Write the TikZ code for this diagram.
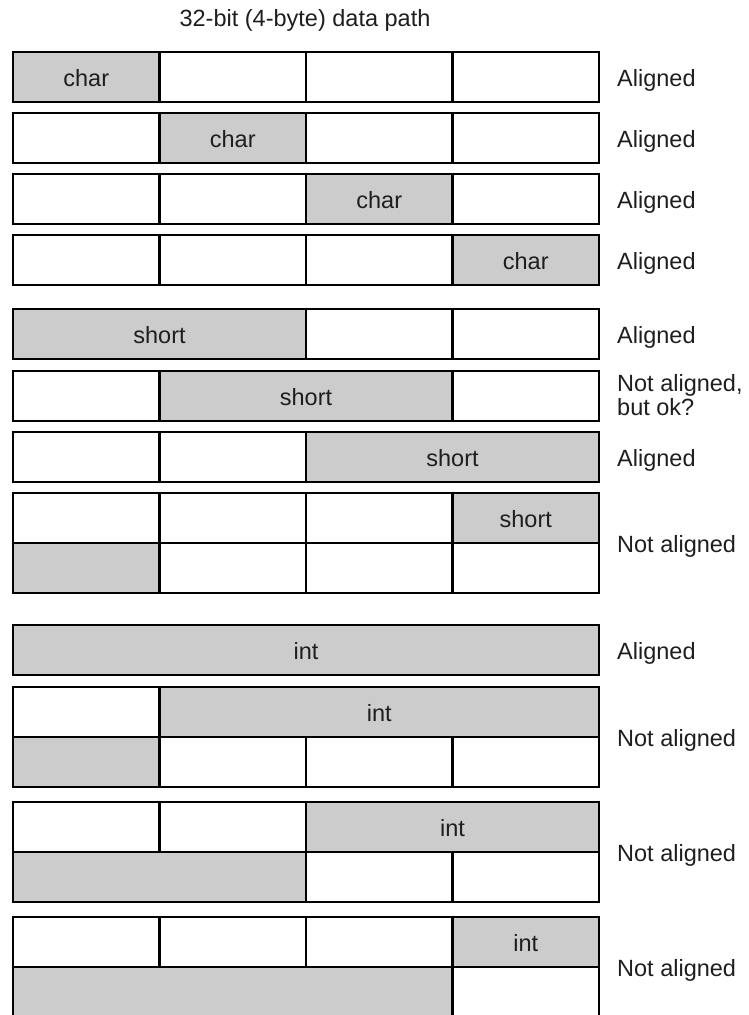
\documentclass[tikz,border=0pt]{standalone}
\usepackage{fontspec}
\setmainfont{Liberation Sans}
\definecolor{cellgray}{HTML}{CCCCCC}
\definecolor{ink}{HTML}{1E1E1E}
\newcommand\cb[7]{\node[cellbox,fill=#6,minimum width={#3-#2},minimum height={#5}] (#1) at ({(#2+#3)/2},{#4+#5/2}) {#7};}
\newcommand\lab[3]{\node[labtxt] (#1) at (617,#2) {#3};}
\begin{document}
\begin{tikzpicture}[x=1pt,y=-1pt,
  cellbox/.style={draw=black,line width=2.4pt,rectangle,inner sep=0pt,outer sep=0pt,
    text=ink,font=\fontsize{23.5}{28}\selectfont,text height=18.5pt,text depth=0pt},
  labtxt/.style={anchor=base west,inner sep=0pt,text=ink,font=\fontsize{23.5}{28}\selectfont}]
\useasboundingbox (0,0) rectangle (748,1015);
\clip (0,0) rectangle (748,1015);
\node[labtxt,anchor=base] (title) at (305,26) {32-bit (4-byte) data path};
% row 1
\cb{r1a}{13}{159.5}{52}{50}{cellgray}{char}
\cb{r1b}{159.5}{306}{52}{50}{white}{}
\cb{r1c}{306}{452.5}{52}{50}{white}{}
\cb{r1d}{452.5}{599}{52}{50}{white}{}
\lab{l1}{86.5}{Aligned}
% row 2
\cb{r2a}{13}{159.5}{113}{50}{white}{}
\cb{r2b}{159.5}{306}{113}{50}{cellgray}{char}
\cb{r2c}{306}{452.5}{113}{50}{white}{}
\cb{r2d}{452.5}{599}{113}{50}{white}{}
\lab{l2}{147.5}{Aligned}
% row 3
\cb{r3a}{13}{159.5}{174}{50}{white}{}
\cb{r3b}{159.5}{306}{174}{50}{white}{}
\cb{r3c}{306}{452.5}{174}{50}{cellgray}{char}
\cb{r3d}{452.5}{599}{174}{50}{white}{}
\lab{l3}{208.5}{Aligned}
% row 4
\cb{r4a}{13}{159.5}{235}{50}{white}{}
\cb{r4b}{159.5}{306}{235}{50}{white}{}
\cb{r4c}{306}{452.5}{235}{50}{white}{}
\cb{r4d}{452.5}{599}{235}{50}{cellgray}{char}
\lab{l4}{269.5}{Aligned}
% row 5
\cb{r5a}{13}{306}{309}{50}{cellgray}{short}
\cb{r5c}{306}{452.5}{309}{50}{white}{}
\cb{r5d}{452.5}{599}{309}{50}{white}{}
\lab{l5}{343.5}{Aligned}
% row 6
\cb{r6a}{13}{159.5}{371}{50}{white}{}
\cb{r6b}{159.5}{452.5}{371}{50}{cellgray}{short}
\cb{r6d}{452.5}{599}{371}{50}{white}{}
\lab{l6a}{391}{Not aligned,}
\lab{l6b}{415}{but ok?}
% row 7
\cb{r7a}{13}{159.5}{432}{50}{white}{}
\cb{r7b}{159.5}{306}{432}{50}{white}{}
\cb{r7c}{306}{599}{432}{50}{cellgray}{short}
\lab{l7}{466.5}{Aligned}
% row 8
\cb{r8a}{13}{159.5}{493}{50}{white}{}
\cb{r8b}{159.5}{306}{493}{50}{white}{}
\cb{r8c}{306}{452.5}{493}{50}{white}{}
\cb{r8d}{452.5}{599}{493}{50}{cellgray}{short}
\cb{r8e}{13}{159.5}{543}{50}{cellgray}{}
\cb{r8f}{159.5}{306}{543}{50}{white}{}
\cb{r8g}{306}{452.5}{543}{50}{white}{}
\cb{r8h}{452.5}{599}{543}{50}{white}{}
\lab{l8}{552.5}{Not aligned}
% row 9
\cb{r9a}{13}{599}{625}{50}{cellgray}{int}
\lab{l9}{659.5}{Aligned}
% row 10
\cb{r10a}{13}{159.5}{687}{50}{white}{}
\cb{r10b}{159.5}{599}{687}{50}{cellgray}{int}
\cb{r10e}{13}{159.5}{737}{50}{cellgray}{}
\cb{r10f}{159.5}{306}{737}{50}{white}{}
\cb{r10g}{306}{452.5}{737}{50}{white}{}
\cb{r10h}{452.5}{599}{737}{50}{white}{}
\lab{l10}{746.5}{Not aligned}
% row 11
\cb{r11a}{13}{159.5}{802}{50}{white}{}
\cb{r11b}{159.5}{306}{802}{50}{white}{}
\cb{r11c}{306}{599}{802}{50}{cellgray}{int}
\cb{r11e}{13}{306}{852}{50}{cellgray}{}
\cb{r11g}{306}{452.5}{852}{50}{white}{}
\cb{r11h}{452.5}{599}{852}{50}{white}{}
\lab{l11}{861.5}{Not aligned}
% row 12
\cb{r12a}{13}{159.5}{917}{50}{white}{}
\cb{r12b}{159.5}{306}{917}{50}{white}{}
\cb{r12c}{306}{452.5}{917}{50}{white}{}
\cb{r12d}{452.5}{599}{917}{50}{cellgray}{int}
\cb{r12e}{13}{452.5}{967}{50}{cellgray}{}
\cb{r12h}{452.5}{599}{967}{50}{white}{}
\lab{l12}{976.5}{Not aligned}
\end{tikzpicture}
\end{document}
